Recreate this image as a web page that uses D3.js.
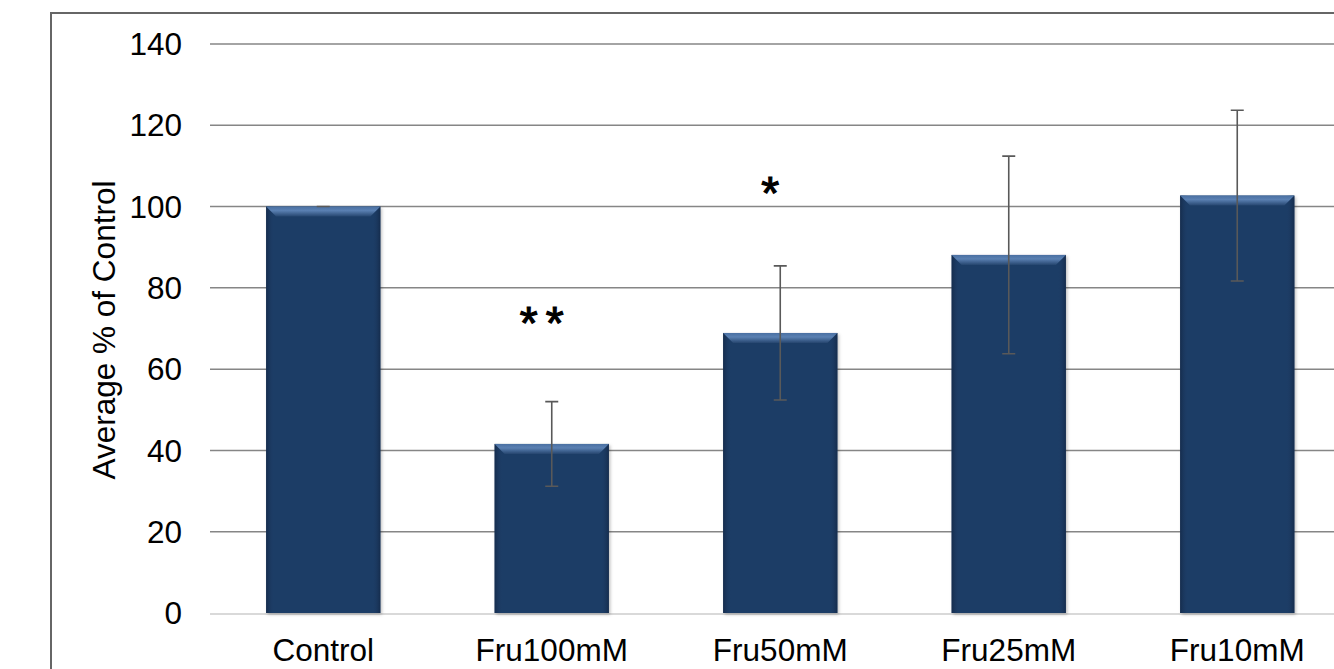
<!DOCTYPE html>
<html>
<head>
<meta charset="utf-8">
<script src="https://cdn.jsdelivr.net/npm/d3@7"></script>
<style>
  html, body { margin: 0; padding: 0; background: #fff; overflow: hidden; }
  svg { display: block; font-family: "Liberation Sans", Arial, sans-serif; }
</style>
</head>
<body>
<script>
// data
const categories = ['Control', 'Fru100mM', 'Fru50mM', 'Fru25mM', 'Fru10mM'];
const means = [100, 41.6, 68.9, 88.1, 102.7];
const errors = [0, 10.4, 16.5, 24.3, 21];
const yTicks = [0, 20, 40, 60, 80, 100, 120, 140];
const marks = [
    { cat: 'Fru100mM', label: '**', at: 74.5 },
    { cat: 'Fru50mM', label: '*', at: 106.5 }
];
const yTitle = 'Average % of Control';

const width = 1334;
const height = 669;

const plotLeft = 210;
const band = 228.5;

const svg = d3.select('body')
    .append('svg')
    .attr('width', width)
    .attr('height', height);

const defs = svg.append('defs');

// bevel gradients for the bars
const topGrad = defs.append('linearGradient')
    .attr('id', 'bevelTop')
    .attr('x1', 0).attr('y1', 0).attr('x2', 0).attr('y2', 1);
topGrad.append('stop').attr('offset', '0%').attr('stop-color', '#4a70a2');
topGrad.append('stop').attr('offset', '40%').attr('stop-color', '#5a80b2');
topGrad.append('stop').attr('offset', '100%').attr('stop-color', '#26466f');

const sideGrad = defs.append('linearGradient')
    .attr('id', 'bevelSide')
    .attr('x1', 0).attr('y1', 0).attr('x2', 1).attr('y2', 0);
sideGrad.append('stop').attr('offset', '0%').attr('stop-color', '#132846').attr('stop-opacity', 0.8);
sideGrad.append('stop').attr('offset', '7%').attr('stop-color', '#1f3c66').attr('stop-opacity', 0);
sideGrad.append('stop').attr('offset', '93%').attr('stop-color', '#1f3c66').attr('stop-opacity', 0);
sideGrad.append('stop').attr('offset', '100%').attr('stop-color', '#132846').attr('stop-opacity', 0.8);

const shadow = defs.append('filter')
    .attr('id', 'barShadow')
    .attr('x', '-10%').attr('y', '-10%').attr('width', '130%').attr('height', '130%');
shadow.append('feDropShadow')
    .attr('dx', 1.5).attr('dy', 1.5).attr('stdDeviation', 1.5)
    .attr('flood-color', '#000').attr('flood-opacity', 0.25);

// outer chart border (cropped on right and bottom)
svg.append('rect')
    .attr('x', 51)
    .attr('y', 13)
    .attr('width', width + 20)
    .attr('height', height + 20)
    .attr('fill', 'none')
    .attr('stroke', '#666')
    .attr('stroke-width', 2);

const xScale = d3.scaleBand()
    .domain(categories)
    .range([plotLeft - 1, plotLeft - 1 + band * categories.length])
    .paddingInner(0.5)
    .paddingOuter(0.25);

const yScale = d3.scaleLinear()
    .domain([0, 140])
    .range([613, 44]);

// gridlines
svg.append('g')
    .classed('grid', true)
    .selectAll('line')
    .data(yTicks.filter(t => t > 0))
    .enter()
    .append('line')
    .attr('x1', plotLeft)
    .attr('x2', width)
    .attr('y1', d => yScale(d))
    .attr('y2', d => yScale(d))
    .attr('stroke', '#868686')
    .attr('stroke-width', 1.5);

// baseline
svg.append('line')
    .attr('x1', plotLeft)
    .attr('x2', width)
    .attr('y1', yScale(0) + 1)
    .attr('y2', yScale(0) + 1)
    .attr('stroke', '#d9d9d9')
    .attr('stroke-width', 2);

// y tick labels
svg.append('g')
    .classed('y-labels', true)
    .selectAll('text')
    .data(yTicks)
    .enter()
    .append('text')
    .attr('x', plotLeft - 28)
    .attr('y', d => yScale(d))
    .attr('dy', '0.355em')
    .attr('text-anchor', 'end')
    .attr('font-size', 31.5)
    .attr('fill', '#000')
    .text(d => d);

// y title
svg.append('text')
    .attr('transform', 'translate(115,330) rotate(-90)')
    .attr('text-anchor', 'middle')
    .attr('font-size', 31.5)
    .attr('fill', '#000')
    .text(yTitle);

// bars
const rows = categories.map((c, i) => ({ cat: c, value: means[i], err: errors[i] }));
const bw = xScale.bandwidth();
const bevel = 10;

const bars = svg.append('g')
    .classed('bars', true)
    .selectAll('g')
    .data(rows)
    .enter()
    .append('g');

bars.append('rect')
    .attr('x', d => xScale(d.cat))
    .attr('y', d => yScale(d.value))
    .attr('width', bw)
    .attr('height', d => yScale(0) - yScale(d.value))
    .attr('fill', '#1f3c66')
    .attr('filter', 'url(#barShadow)');

bars.append('rect')
    .attr('x', d => xScale(d.cat))
    .attr('y', d => yScale(d.value))
    .attr('width', bw)
    .attr('height', d => yScale(0) - yScale(d.value))
    .attr('fill', 'url(#bevelSide)');

bars.append('polygon')
    .attr('points', d => {
        const x0 = xScale(d.cat);
        const y0 = yScale(d.value);
        return [
            [x0, y0], [x0 + bw, y0],
            [x0 + bw - bevel, y0 + bevel], [x0 + bevel, y0 + bevel]
        ].join(' ');
    })
    .attr('fill', 'url(#bevelTop)');

// error bars
const errG = svg.append('g').classed('errors', true);
const cap = 6.5;

errG.selectAll('path')
    .data(rows)
    .enter()
    .append('path')
    .attr('d', d => {
        const cx = xScale(d.cat) + bw / 2;
        const hi = yScale(d.value + d.err);
        const lo = yScale(d.value - d.err);
        return `M${cx},${hi}V${lo}M${cx - cap},${hi}H${cx + cap}M${cx - cap},${lo}H${cx + cap}`;
    })
    .attr('fill', 'none')
    .attr('stroke', '#595959')
    .attr('stroke-width', 1.6);

// x labels
svg.append('g')
    .classed('x-labels', true)
    .selectAll('text')
    .data(categories)
    .enter()
    .append('text')
    .attr('x', d => xScale(d) + bw / 2)
    .attr('y', 661)
    .attr('text-anchor', 'middle')
    .attr('font-size', 31.5)
    .attr('fill', '#000')
    .text(d => d);

// significance marks
svg.append('g')
    .classed('marks', true)
    .selectAll('text')
    .data(marks)
    .enter()
    .append('text')
    .attr('x', d => xScale(d.cat) + bw / 2 - 6)
    .attr('y', d => yScale(d.at))
    .attr('dy', '0.62em')
    .attr('text-anchor', 'middle')
    .attr('font-size', 46)
    .attr('stroke', '#000')
    .attr('stroke-width', 1.2)
    .attr('letter-spacing', 8)
    .attr('fill', '#000')
    .text(d => d.label);
</script>
</body>
</html>
